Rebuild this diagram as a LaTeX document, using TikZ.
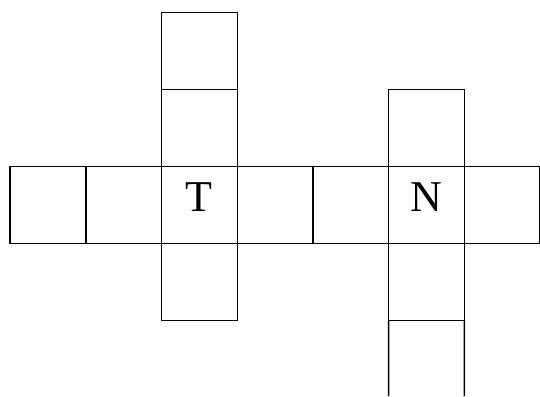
\documentclass[tikz,border=0pt]{standalone}
\usepackage{fontspec}
\setmainfont{Liberation Serif}
\usepackage{tikz}

\tikzset{cell/.style={draw, line width=1.5pt, minimum width=75.7pt, minimum height=77pt, inner sep=0pt, outer sep=0pt, text height=29pt, text depth=15.6pt, font=\fontsize{44}{44}\selectfont}}

\begin{document}
\begin{tikzpicture}[x=1pt, y=-1pt]
    \useasboundingbox (0,0) rectangle (540,396);

    % horizontal row
    \node[cell] (r1) at (47.9,205) {};
    \node[cell] (r2) at (123.6,205) {};
    \node[cell] (r3) at (199.4,205) {T};
    \node[cell] (r4) at (275.1,205) {};
    \node[cell] (r5) at (350.8,205) {};
    \node[cell] (r6) at (426.5,205) {N};
    \node[cell] (r7) at (502.2,205) {};

    % column through T
    \node[cell] (t1) at (199.4,51) {};
    \node[cell] (t2) at (199.4,128) {};
    \node[cell] (t4) at (199.4,282) {};

    % column through N
    \node[cell] (n2) at (426.5,128) {};
    \node[cell] (n4) at (426.5,282) {};

    % open cell at the bottom
    \coordinate (bl) at (388.65,396);
    \coordinate (br) at (464.35,396);
    \draw[line width=1.5pt] (n4.south west) -- (bl);
    \draw[line width=1.5pt] (n4.south east) -- (br);
\end{tikzpicture}
\end{document}
